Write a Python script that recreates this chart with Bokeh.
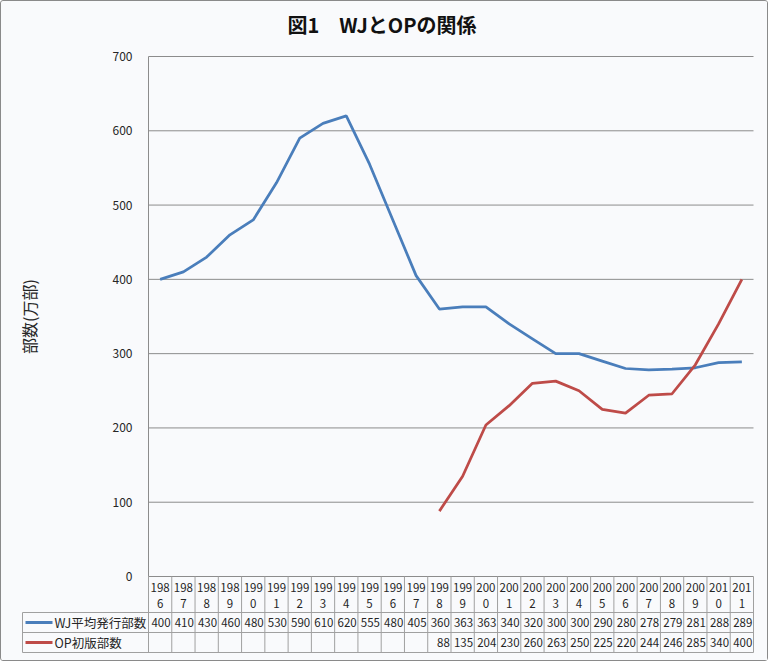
from bokeh.plotting import figure
from bokeh.models import Range1d, FixedTicker, ColumnDataSource, LinearAxis
from bokeh.layouts import column
from bokeh.embed import file_html
from bokeh.resources import INLINE
from bokeh.core.properties import value

# ---------------- data ----------------
years = ["1986", "1987", "1988", "1989", "1990", "1991", "1992", "1993", "1994",
         "1995", "1996", "1997", "1998", "1999", "2000", "2001", "2002", "2003",
         "2004", "2005", "2006", "2007", "2008", "2009", "2010", "2011"]
wj_values = [400, 410, 430, 460, 480, 530, 590, 610, 620, 555, 480, 405, 360,
             363, 363, 340, 320, 300, 300, 290, 280, 278, 279, 281, 288, 289]
op_years = ["1998", "1999", "2000", "2001", "2002", "2003", "2004", "2005",
            "2006", "2007", "2008", "2009", "2010", "2011"]
op_values = [88, 135, 204, 230, 260, 263, 250, 225, 220, 244, 246, 285, 340, 400]
series_names = ["WJ平均発行部数", "OP初版部数"]
y_ticks = [0, 100, 200, 300, 400, 500, 600, 700]
title_text = "図1　WJとOPの関係"
y_label = "部数(万部)"

# ---------------- style ----------------
BG = "#F9FAFC"
BLUE = "#4A7EBB"
RED = "#BE4B48"
GRID = "#8C8C8C"
TABLE = "#A0A0A0"
TXT = "#262626"
JP = "Noto Sans CJK JP"

n = len(years)
PLOT_W = 605                 # pixel width of the category area
PLOT_H = 520                 # pixel height of the 0..700 value area
colw = PLOT_W / n            # px per category
ymax = y_ticks[-1]
u = ymax / PLOT_H            # value units per px

FIG_W, FIG_H = 766, 659
LEFT, RIGHT, TOP, BOTTOM = 20, 12, 39, 5   # frame borders in px

x_start = -0.5 - 127 / colw
x_end = n - 0.5 + 2 / colw
y_top = ymax + 16 * u
y_bot = -(FIG_H - TOP - BOTTOM - PLOT_H - 16) * u

p = figure(width=FIG_W, height=FIG_H,
           x_range=Range1d(x_start, x_end), y_range=Range1d(y_bot, y_top),
           min_border_left=LEFT, min_border_right=RIGHT,
           min_border_top=TOP, min_border_bottom=BOTTOM,
           output_backend="svg", toolbar_location=None, y_axis_location=None)
p.background_fill_color = BG
p.border_fill_color = BG
p.outline_line_color = None
p.xaxis.visible = False
p.grid.visible = False

p.title.text = title_text
p.title.text_font = JP
p.title.text_font_size = "20px"
p.title.text_font_style = "bold"
p.title.text_color = "#111111"
p.title.align = "left"
p.title.offset = 266
p.title.standoff = 4

# value axis, fixed at the left edge of the category area
yax = LinearAxis(fixed_location=-0.5, bounds=(0, ymax),
                 ticker=FixedTicker(ticks=y_ticks))
yax.axis_line_color = GRID
yax.major_tick_line_color = None
yax.minor_tick_line_color = None
yax.major_label_standoff = 10
yax.major_label_text_font = JP
yax.major_label_text_font_size = "12px"
yax.major_label_text_color = TXT
yax.axis_label = y_label
yax.axis_label_text_font = JP
yax.axis_label_text_font_size = "16px"
yax.axis_label_text_font_style = "normal"
yax.axis_label_text_color = TXT
yax.axis_label_standoff = 69
p.add_layout(yax, "left")

# horizontal gridlines over the category area only
p.segment(x0=[-0.5] * len(y_ticks), y0=y_ticks, x1=[n - 0.5] * len(y_ticks),
          y1=y_ticks, line_color=GRID, line_width=1)

# series
xs = list(range(n))
op_x = [years.index(y) for y in op_years]
p.line(x=xs, y=wj_values, line_color=BLUE, line_width=2.75)
p.line(x=op_x, y=op_values, line_color=RED, line_width=2.75)

# ---------------- data table below the chart ----------------
legend_left = -0.5 - 126 / colw
row_lines = [-36 * u, -56 * u, -76 * u]
row_mid = [-46 * u, -66 * u]
hdr_y = [-11 * u, -27 * u]

vx = [i - 0.5 for i in range(n + 1)]
p.segment(x0=vx, y0=[0] * len(vx), x1=vx, y1=[row_lines[-1]] * len(vx),
          line_color=TABLE, line_width=1)
p.segment(x0=[legend_left], y0=[row_lines[0]], x1=[legend_left],
          y1=[row_lines[-1]], line_color=TABLE, line_width=1)
p.segment(x0=[legend_left] * 3, y0=row_lines, x1=[n - 0.5] * 3, y1=row_lines,
          line_color=TABLE, line_width=1)

hdr = ColumnDataSource(dict(x=xs, a=[y[:3] for y in years],
                            b=[y[3:] for y in years]))
for yy, col in zip(hdr_y, ["a", "b"]):
    p.text(x="x", y=yy, text=col, source=hdr, text_align="center",
           text_baseline="middle", text_font=value(JP), text_font_size="11.5px",
           text_color=TXT)

pad = 1.2 / colw
wj_src = ColumnDataSource(dict(x=[i + 0.5 - pad for i in xs],
                               txt=[str(v) for v in wj_values]))
op_src = ColumnDataSource(dict(x=[i + 0.5 - pad for i in op_x],
                               txt=[str(v) for v in op_values]))
for yy, src in zip(row_mid, [wj_src, op_src]):
    p.text(x="x", y=yy, text="txt", source=src, text_align="right",
           text_baseline="middle", text_font=value(JP), text_font_size="11.5px",
           text_color=TXT)

kx0 = legend_left + 3 / colw
kx1 = legend_left + 30 / colw
for yy, col, name in zip(row_mid, [BLUE, RED], series_names):
    p.segment(x0=[kx0], y0=[yy], x1=[kx1], y1=[yy], line_color=col, line_width=3)
    p.text(x=[kx1 + 2 / colw], y=[yy], text=[name], text_align="left",
           text_baseline="middle", text_font=value(JP), text_font_size="12.5px",
           text_color=TXT)

layout = column(p, styles={"border": "1px solid #8A8A8A", "border-radius": "3px",
                           "background-color": BG})

open("out.html", "w").write(file_html(layout, INLINE))
